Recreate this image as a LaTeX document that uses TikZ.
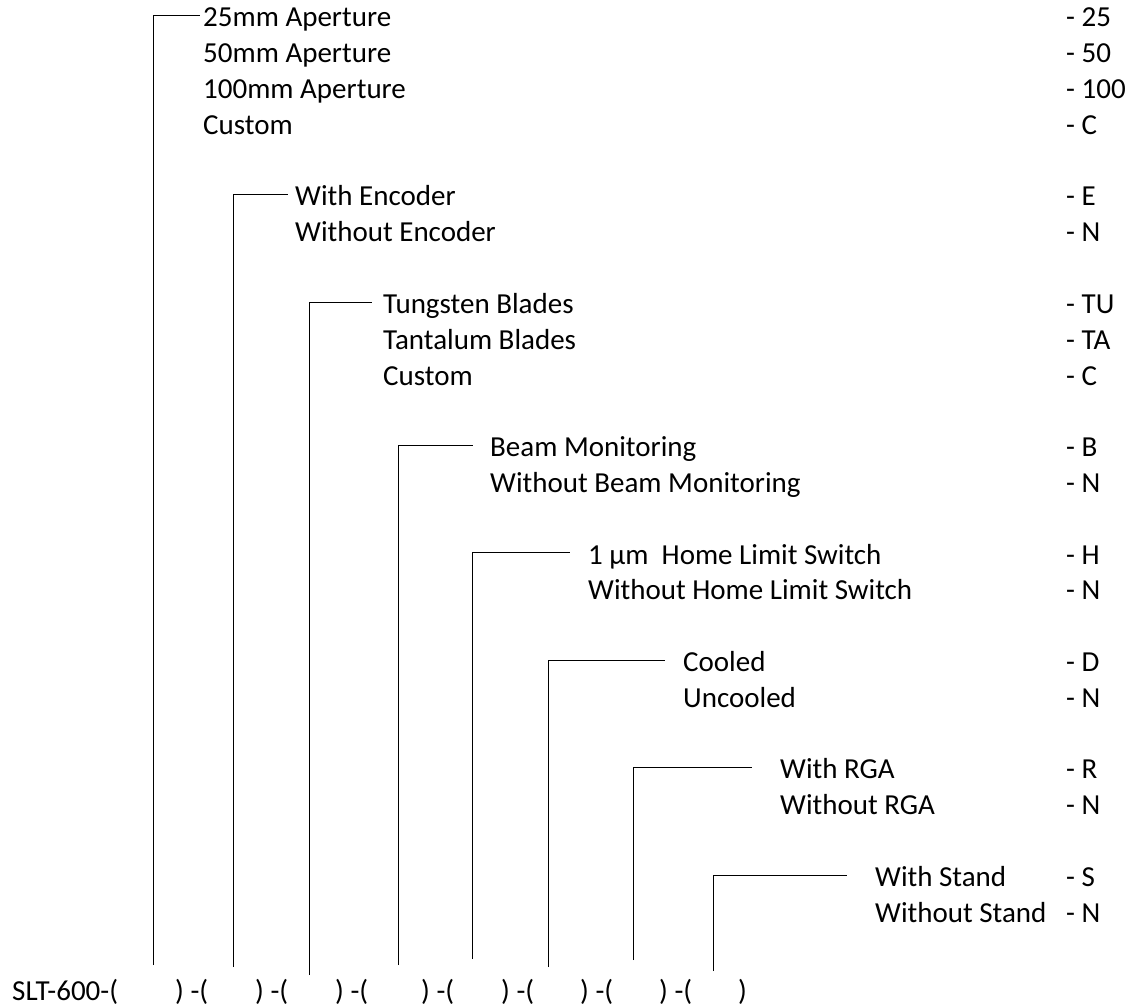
\documentclass[tikz,border=0pt]{standalone}
\usepackage{fontspec}
\setmainfont{Carlito}
\begin{document}
\begin{tikzpicture}[x=1pt,y=-1pt,
  lbl/.style={anchor=base west,inner sep=0pt,font=\fontsize{29}{35}\selectfont},
  conn/.style={draw=black,line width=1pt}]
\useasboundingbox (0,0) rectangle (1137,1008);
% row baselines: b_k = 27 + 35.8 k
\def\cx{1066}
% Group 1
\node[lbl] (a1) at (203,27) {25mm Aperture};
\node[lbl] (a2) at (203,62.8) {50mm Aperture};
\node[lbl] (a3) at (203,98.6) {100mm Aperture};
\node[lbl] (a4) at (203,134.4) {Custom};
\node[lbl] (ca1) at (\cx,27) {- 25};
\node[lbl] (ca2) at (\cx,62.8) {- 50};
\node[lbl] (ca3) at (\cx,98.6) {- 100};
\node[lbl] (ca4) at (\cx,134.4) {- C};
% Group 2
\node[lbl] (e1) at (295,206) {With Encoder};
\node[lbl] (e2) at (295,241.8) {Without Encoder};
\node[lbl] (ce1) at (\cx,206) {- E};
\node[lbl] (ce2) at (\cx,241.8) {- N};
% Group 3
\node[lbl] (t1) at (383,313.4) {Tungsten Blades};
\node[lbl] (t2) at (383,349.2) {Tantalum Blades};
\node[lbl] (t3) at (383,385) {Custom};
\node[lbl] (ct1) at (\cx,313.4) {- TU};
\node[lbl] (ct2) at (\cx,349.2) {- TA};
\node[lbl] (ct3) at (\cx,385) {- C};
% Group 4
\node[lbl] (m1) at (490,456.6) {Beam Monitoring};
\node[lbl] (m2) at (490,492.4) {Without Beam Monitoring};
\node[lbl] (cm1) at (\cx,456.6) {- B};
\node[lbl] (cm2) at (\cx,492.4) {- N};
% Group 5
\node[lbl] (h1) at (588,564) {1 µm\ \ Home Limit Switch};
\node[lbl] (h2) at (588,599.8) {Without Home Limit Switch};
\node[lbl] (ch1) at (\cx,564) {- H};
\node[lbl] (ch2) at (\cx,599.8) {- N};
% Group 6
\node[lbl] (d1) at (683,671.4) {Cooled};
\node[lbl] (d2) at (683,707.2) {Uncooled};
\node[lbl] (cd1) at (\cx,671.4) {- D};
\node[lbl] (cd2) at (\cx,707.2) {- N};
% Group 7
\node[lbl] (r1) at (780,778.8) {With RGA};
\node[lbl] (r2) at (780,814.6) {Without RGA};
\node[lbl] (cr1) at (\cx,778.8) {- R};
\node[lbl] (cr2) at (\cx,814.6) {- N};
% Group 8
\node[lbl] (s1) at (875,886.2) {With Stand};
\node[lbl] (s2) at (875,922) {Without Stand};
\node[lbl] (cs1) at (\cx,886.2) {- S};
\node[lbl] (cs2) at (\cx,922) {- N};
% Bottom code line
\node[lbl] (p0) at (12,1000) {SLT-600-(};
\node[lbl] (p1) at (175,1000) {) -(};
\node[lbl] (p2) at (255,1000) {) -(};
\node[lbl] (p3) at (335,1000) {) -(};
\node[lbl] (p4) at (421,1000) {) -(};
\node[lbl] (p5) at (501,1000) {) -(};
\node[lbl] (p6) at (580,1000) {) -(};
\node[lbl] (p7) at (659,1000) {) -(};
\node[lbl] (p8) at (738,1000) {)};
% connector coordinates
\coordinate (b1) at (153,965);  \coordinate (k1) at (200,15.5);
\coordinate (b2) at (233,967);  \coordinate (k2) at (288,194.5);
\coordinate (b3) at (309,975);  \coordinate (k3) at (372,302);
\coordinate (b4) at (398,965);  \coordinate (k4) at (473,445);
\coordinate (b5) at (472,959);  \coordinate (k5) at (570,552.5);
\coordinate (b6) at (548,967);  \coordinate (k6) at (665,660);
\coordinate (b7) at (633,960);  \coordinate (k7) at (752,767.5);
\coordinate (b8) at (713,971);  \coordinate (k8) at (847,875);
\foreach \i in {1,...,8} {\draw[conn] (b\i) |- (k\i);}
\end{tikzpicture}
\end{document}
